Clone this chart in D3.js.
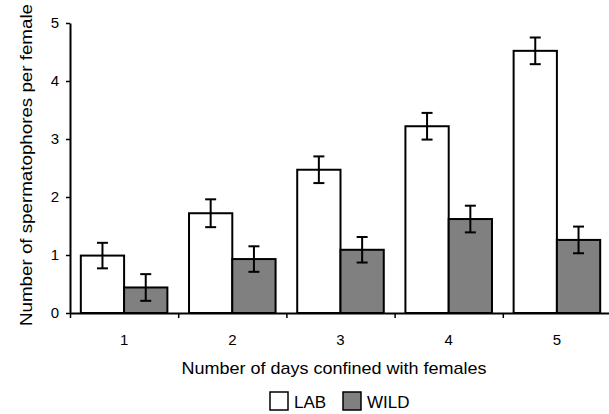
<!DOCTYPE html>
<html>
<head>
<meta charset="utf-8">
<script src="https://cdn.jsdelivr.net/npm/d3@7"></script>
<style>
  body { margin: 0; background: #fff; }
  text { font-family: "Liberation Sans", Arial, sans-serif; fill: #000; }
</style>
</head>
<body>
<div id="chart"></div>
<script>
// data
var days = ["1", "2", "3", "4", "5"];
var series = ["LAB", "WILD"];
var labMeans = [0.99, 1.72, 2.47, 3.22, 4.52];
var labErr = [0.22, 0.24, 0.23, 0.23, 0.23];
var wildMeans = [0.44, 0.93, 1.09, 1.62, 1.26];
var wildErr = [0.23, 0.22, 0.22, 0.23, 0.23];
var yTicks = [0, 1, 2, 3, 4, 5];

var colors = { LAB: "#ffffff", WILD: "#808080" };

var svgWidth = 609, svgHeight = 414;
var margin = { left: 70, right: -2, top: 23, bottom: 101 };
var chartWidth = svgWidth - margin.left - margin.right;
var chartHeight = svgHeight - margin.top - margin.bottom;

var svg = d3.select("#chart")
  .append("svg")
  .attr("width", svgWidth)
  .attr("height", svgHeight);

var chartGroup = svg.append("g")
  .attr("transform", `translate(${margin.left}, ${margin.top})`);

// build rows from the arrays
var rows = days.map(function(d, i) {
  return {
    day: d,
    values: [
      { key: "LAB", mean: labMeans[i], err: labErr[i] },
      { key: "WILD", mean: wildMeans[i], err: wildErr[i] }
    ]
  };
});

var x0 = d3.scaleBand().domain(days).range([0, chartWidth]).padding(0);
var x1 = d3.scaleBand().domain(series)
  .range([x0.bandwidth() * 0.1, x0.bandwidth() * 0.9]);
var xEdge = d3.scaleLinear().domain([0, days.length]).range([0, chartWidth]);
var y = d3.scaleLinear().domain([0, 5]).range([chartHeight, 0]);

// bars
var groups = chartGroup.selectAll("g.day")
  .data(rows)
  .enter()
  .append("g")
  .attr("class", "day")
  .attr("transform", d => `translate(${x0(d.day)},0)`);

groups.selectAll("rect")
  .data(d => d.values)
  .enter()
  .append("rect")
  .attr("x", d => x1(d.key))
  .attr("y", d => y(d.mean))
  .attr("width", x1.bandwidth())
  .attr("height", d => y(0) - y(d.mean))
  .style("fill", d => colors[d.key])
  .style("stroke", "#000")
  .style("stroke-width", 2);

// error bars
var capW = 11;
var errs = groups.selectAll("g.err")
  .data(d => d.values)
  .enter()
  .append("g")
  .attr("class", "err")
  .attr("transform", d => `translate(${x1(d.key) + x1.bandwidth() / 2},0)`)
  .style("stroke", "#000")
  .style("stroke-width", 2);

errs.append("line")
  .attr("x1", 0).attr("x2", 0)
  .attr("y1", d => y(d.mean + d.err))
  .attr("y2", d => y(d.mean - d.err));
errs.append("line")
  .attr("x1", -capW / 2).attr("x2", capW / 2)
  .attr("y1", d => y(d.mean + d.err))
  .attr("y2", d => y(d.mean + d.err));
errs.append("line")
  .attr("x1", -capW / 2).attr("x2", capW / 2)
  .attr("y1", d => y(d.mean - d.err))
  .attr("y2", d => y(d.mean - d.err));

// y axis
var leftAxis = d3.axisLeft(y).tickValues(yTicks).tickFormat(d3.format("d"))
  .tickSize(4).tickSizeOuter(0).tickPadding(7);
var yAxisG = chartGroup.append("g").call(leftAxis);
yAxisG.select(".domain").style("stroke-width", 2);
yAxisG.selectAll(".tick line").style("stroke-width", 1.5);
yAxisG.selectAll(".tick text").style("font-size", "15px").style("font-family", "Liberation Sans, Arial, sans-serif");

// x axis: ticks at category edges, labels at centres
var edgeAxis = d3.axisBottom(xEdge).ticks(days.length).tickSize(5).tickSizeOuter(0).tickFormat("");
var xAxisG = chartGroup.append("g")
  .attr("transform", `translate(0, ${chartHeight})`)
  .call(edgeAxis);
xAxisG.select(".domain").style("stroke-width", 2);
xAxisG.selectAll(".tick line").style("stroke-width", 1.5);

var labelAxis = d3.axisBottom(x0).tickSize(0).tickPadding(21);
var xLab = chartGroup.append("g")
  .attr("transform", `translate(0, ${chartHeight})`)
  .call(labelAxis);
xLab.select(".domain").remove();
xLab.selectAll(".tick text").style("font-size", "15px").style("font-family", "Liberation Sans, Arial, sans-serif");

// axis titles
svg.append("text")
  .attr("x", 334)
  .attr("y", 374)
  .attr("text-anchor", "middle")
  .attr("textLength", 305)
  .attr("lengthAdjust", "spacingAndGlyphs")
  .style("font-size", "17px")
  .text("Number of days confined with females");

svg.append("text")
  .attr("transform", "translate(32, 165) rotate(-90)")
  .attr("text-anchor", "middle")
  .attr("textLength", 322)
  .attr("lengthAdjust", "spacingAndGlyphs")
  .style("font-size", "16px")
  .text("Number of spermatophores per female");

// legend
var legend = svg.append("g").attr("transform", "translate(270, 392)");
var legItems = legend.selectAll("g")
  .data(series)
  .enter()
  .append("g")
  .attr("transform", (d, i) => `translate(${i * 73},0)`);
legItems.append("rect")
  .attr("width", 18).attr("height", 18)
  .style("fill", d => colors[d])
  .style("stroke", "#000")
  .style("stroke-width", 1.5);
legItems.append("text")
  .attr("x", 24).attr("y", 15.5)
  .style("font-size", "17px")
  .text(d => d);
</script>
</body>
</html>
